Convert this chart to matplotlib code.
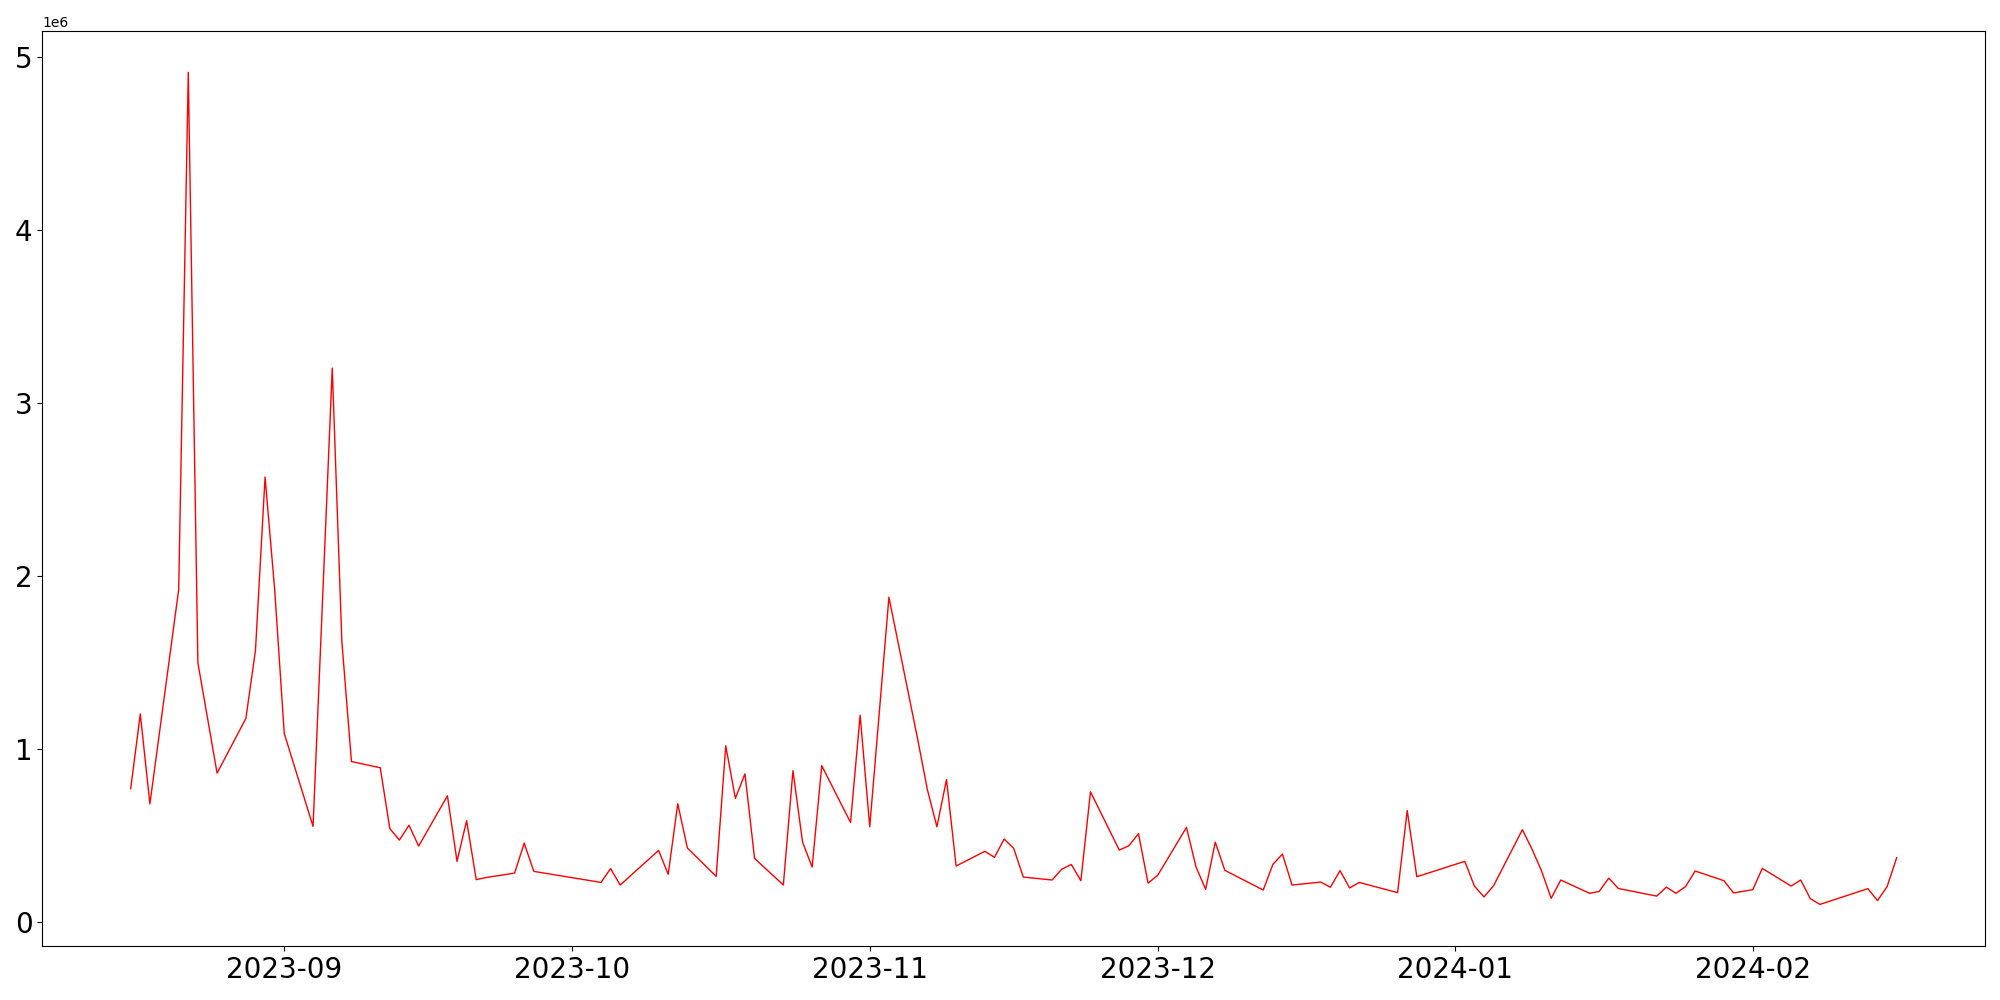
import pandas as pd
import matplotlib
matplotlib.use('Agg')
import matplotlib.pyplot as plt

# trading days
dates = [
    '2023-08-16', '2023-08-17', '2023-08-18', '2023-08-21', '2023-08-22', '2023-08-23', '2023-08-25',
    '2023-08-28', '2023-08-29', '2023-08-30', '2023-08-31', '2023-09-01',
    '2023-09-04', '2023-09-06', '2023-09-07', '2023-09-08',
    '2023-09-11', '2023-09-12', '2023-09-13', '2023-09-14', '2023-09-15',
    '2023-09-18', '2023-09-19', '2023-09-20', '2023-09-21', '2023-09-22',
    '2023-09-25', '2023-09-26', '2023-09-27',
    '2023-10-04', '2023-10-05', '2023-10-06',
    '2023-10-10', '2023-10-11', '2023-10-12', '2023-10-13',
    '2023-10-16', '2023-10-17', '2023-10-18', '2023-10-19', '2023-10-20',
    '2023-10-23', '2023-10-24', '2023-10-25', '2023-10-26', '2023-10-27',
    '2023-10-30', '2023-10-31', '2023-11-01', '2023-11-03',
    '2023-11-06', '2023-11-07', '2023-11-08', '2023-11-09', '2023-11-10',
    '2023-11-13', '2023-11-14', '2023-11-15', '2023-11-16', '2023-11-17',
    '2023-11-20', '2023-11-21', '2023-11-22', '2023-11-23', '2023-11-24',
    '2023-11-27', '2023-11-28', '2023-11-29', '2023-11-30', '2023-12-01',
    '2023-12-04', '2023-12-05', '2023-12-06', '2023-12-07', '2023-12-08',
    '2023-12-12', '2023-12-13', '2023-12-14', '2023-12-15',
    '2023-12-18', '2023-12-19', '2023-12-20', '2023-12-21', '2023-12-22',
    '2023-12-26', '2023-12-27', '2023-12-28',
    '2024-01-02', '2024-01-03', '2024-01-04', '2024-01-05',
    '2024-01-08', '2024-01-09', '2024-01-10', '2024-01-11', '2024-01-12',
    '2024-01-15', '2024-01-16', '2024-01-17', '2024-01-18',
    '2024-01-22', '2024-01-23', '2024-01-24', '2024-01-25', '2024-01-26',
    '2024-01-29', '2024-01-30', '2024-02-01', '2024-02-02',
    '2024-02-05', '2024-02-06', '2024-02-07', '2024-02-08',
    '2024-02-13', '2024-02-14', '2024-02-15', '2024-02-16',
]

# values in millions
valores = [
    0.768, 1.20, 0.68, 1.919, 4.91, 1.496, 0.858,
    1.174, 1.568, 2.57, 1.92, 1.087,
    0.550, 3.20, 1.62, 0.925,
    0.889, 0.537, 0.471, 0.557, 0.436,
    0.727, 0.348, 0.583, 0.242, 0.254,
    0.280, 0.453, 0.290,
    0.226, 0.306, 0.211,
    0.411, 0.273, 0.681, 0.425,
    0.261, 1.016, 0.712, 0.854, 0.365,
    0.211, 0.872, 0.459, 0.315, 0.901,
    0.573, 1.193, 0.548, 1.875,
    1.053, 0.764, 0.548, 0.821, 0.321,
    0.406, 0.371, 0.477, 0.423, 0.257,
    0.240, 0.302, 0.330, 0.236, 0.750,
    0.413, 0.438, 0.508, 0.222, 0.267,
    0.544, 0.315, 0.186, 0.459, 0.296,
    0.182, 0.330, 0.390, 0.211,
    0.228, 0.198, 0.294, 0.194, 0.226,
    0.167, 0.642, 0.259,
    0.348, 0.205, 0.142, 0.207,
    0.531, 0.419, 0.292, 0.134, 0.240,
    0.163, 0.174, 0.251, 0.191,
    0.147, 0.199, 0.163, 0.202, 0.292,
    0.236, 0.165, 0.184, 0.307,
    0.205, 0.240, 0.132, 0.099,
    0.190, 0.121, 0.202, 0.369,
]

serie = pd.Series([v * 1e6 for v in valores], index=pd.to_datetime(dates))

plt.figure(figsize=(20, 10))
plt.plot(serie.index, serie.values, color='red', linewidth=1)
plt.xticks(fontsize=20)
plt.yticks(fontsize=20)
plt.subplots_adjust(left=0.0212, right=0.9925, top=0.9693, bottom=0.054)
plt.savefig('out.png', dpi=100)
